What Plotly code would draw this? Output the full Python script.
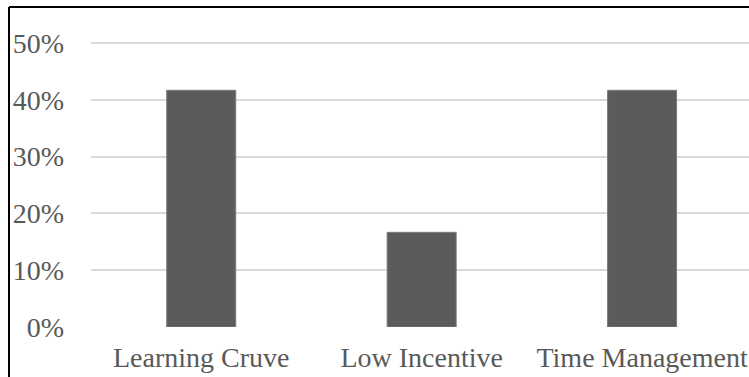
import plotly.graph_objects as go

categories = ["Learning Cruve", "Low Incentive", "Time Management"]
shares = [5 / 12, 2 / 12, 5 / 12]
tick_vals = [0, 0.1, 0.2, 0.3, 0.4, 0.5]
tick_text = ["0%", "10%", "20%", "30%", "40%", "50%"]

W, H = 749, 377
L, R, T, B = 91, 0, 41, 50
pw, ph = W - L - R, H - T - B

fig = go.Figure(
    go.Bar(
        x=categories,
        y=shares,
        width=0.313,
        marker=dict(color="#5b5b5b", line=dict(color="#7a7a7a", width=1)),
    )
)

font = dict(family="Liberation Serif", size=28, color="#595959")

fig.update_layout(
    width=W,
    height=H,
    margin=dict(l=L, r=R, t=T, b=B, pad=0),
    paper_bgcolor="white",
    plot_bgcolor="white",
    showlegend=False,
    font=font,
    xaxis=dict(
        range=[-0.5, 2.485],
        showgrid=False,
        showline=False,
        zeroline=False,
        ticks="",
        tickfont=font,
        ticklabelstandoff=11,
    ),
    yaxis=dict(
        range=[0, 0.5035],
        tickvals=tick_vals,
        ticktext=tick_text,
        showgrid=True,
        gridcolor="#d9d9d9",
        gridwidth=1.5,
        zeroline=False,
        showline=False,
        ticks="",
        tickfont=font,
        ticklabelstandoff=26,
    ),
)

# frame lines along the left and top edges
x_left = (9 - L) / pw
y_top = 1 + (T - 7) / ph
y_bottom = -(B + 10) / ph
fig.add_shape(type="line", xref="paper", yref="paper",
              x0=x_left, x1=x_left, y0=y_bottom, y1=y_top,
              line=dict(color="black", width=2))
fig.add_shape(type="line", xref="paper", yref="paper",
              x0=x_left, x1=1.05, y0=y_top, y1=y_top,
              line=dict(color="black", width=2))

fig.write_html("out.html")
